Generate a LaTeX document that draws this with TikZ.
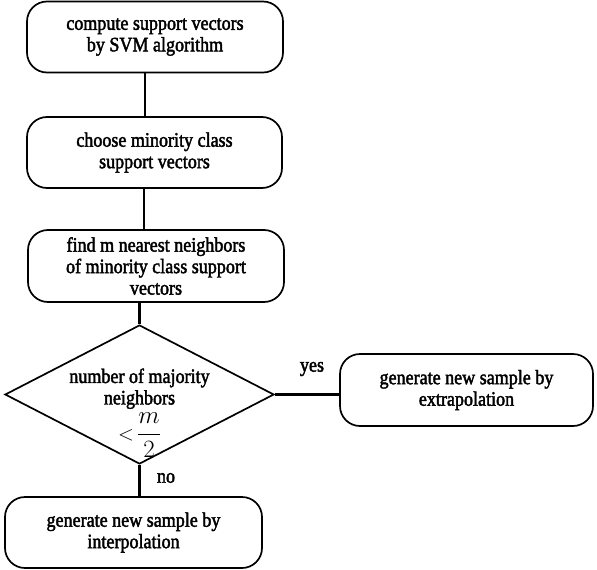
\documentclass[tikz,border=0pt]{standalone}
\usepackage{fontspec}
\setmainfont{Liberation Serif}[FakeStretch=0.88, FakeBold=2]
\usetikzlibrary{shapes.geometric}
\begin{document}
\begin{tikzpicture}[x=1pt,y=-1pt,
  stepbox/.style={draw, line width=1.7pt, rounded corners=20pt, align=center,
    inner sep=0pt, font=\fontsize{20.5}{21.5}\selectfont},
  decide/.style={draw, line width=1.7pt, diamond, inner sep=0pt,
    minimum width=269pt, minimum height=139pt},
  lbl/.style={font=\fontsize{20.5}{21.5}\selectfont, inner sep=0pt, align=center},
  conn/.style={line width=2.6pt}]
\useasboundingbox (0,0) rectangle (597,570);
\node[stepbox, minimum width=256pt, minimum height=71pt] (b1) at (155,37)
  {compute support vectors\\by SVM algorithm};
\node[stepbox, minimum width=255pt, minimum height=71pt] (b2) at (154.5,152.5)
  {choose minority class\\support vectors};
\node[stepbox, minimum width=256pt, minimum height=72pt] (b3) at (156,266)
  {find m nearest neighbors\\of minority class support\\vectors};
\node[decide] (d) at (139.5,394.5) {};
\node[lbl] (dt) at (139.5,413) {number of majority\\neighbors\\[3pt] {$<$}\,{\fontsize{23}{24}\selectfont$\displaystyle\frac{m}{2}$}};
\node[stepbox, minimum width=253pt, minimum height=72pt] (r) at (466.5,390)
  {generate new sample by\\extrapolation};
\node[stepbox, minimum width=257pt, minimum height=71pt] (b4) at (133.5,532.5)
  {generate new sample by\\interpolation};
\node[lbl] (yes) at (312,369) {yes};
\node[lbl] (no) at (166,478) {no};
\draw[conn] ([xshift=-10pt]b1.south) -- ([xshift=-10pt]b1.south |- b2.north);
\draw[conn] ([xshift=-10.5pt]b2.south) -- ([xshift=-10.5pt]b2.south |- b3.north);
\draw[conn] (b3.south -| d.north) -- (d.north);
\draw[conn] (d.east) -- (d.east -| r.west);
\draw[conn] (d.south) -- (d.south |- b4.north);
\end{tikzpicture}
\end{document}
